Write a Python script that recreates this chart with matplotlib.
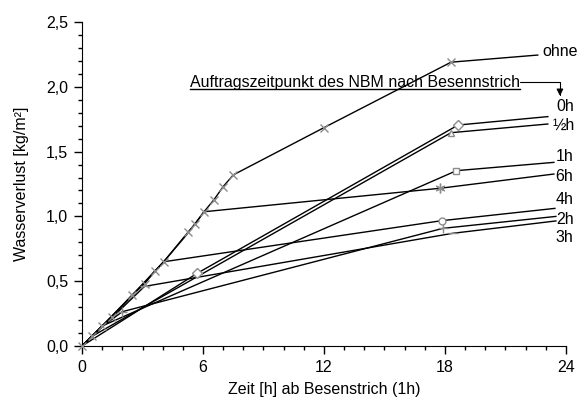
import numpy as np
import matplotlib.pyplot as plt
from matplotlib.ticker import MultipleLocator, FuncFormatter

plt.rcParams['font.family'] = ['Liberation Sans', 'DejaVu Sans']

# reference curve without NBM
t_ohne = [0, 0.5, 1.0, 1.5, 2.5, 3.1, 3.6, 4.05, 5.25, 5.6, 6.05, 6.55, 7.0, 7.5, 12.0, 18.3, 22.6]
w_ohne = [0, 0.075, 0.155, 0.226, 0.395, 0.48, 0.575, 0.65, 0.877, 0.94, 1.036, 1.13, 1.23, 1.32, 1.685, 2.19, 2.245]

# series with NBM applied at different times
t_0h = [0, 5.7, 18.65, 23.1]
w_0h = [0, 0.56, 1.705, 1.77]
t_05h = [0, 0.5, 18.3, 23.1]
w_05h = [0, 0.075, 1.646, 1.713]
t_1h = [0, 1.0, 18.57, 23.4]
w_1h = [0, 0.155, 1.353, 1.417]
t_2h = [0, 1.0, 2.0, 17.9, 23.5]
w_2h = [0, 0.15, 0.265, 0.908, 1.0]
t_3h = [0, 1.5, 3.1, 18.4, 23.5]
w_3h = [0, 0.22, 0.46, 0.87, 0.965]
t_4h = [0, 1.0, 2.5, 4.05, 17.83, 23.45]
w_4h = [0, 0.155, 0.39, 0.65, 0.967, 1.062]
t_6h = [0, 1.0, 2.5, 4.05, 5.25, 6.05, 17.75, 23.4]
w_6h = [0, 0.155, 0.395, 0.65, 0.87, 1.036, 1.217, 1.327]

series = [
    # t, w, marker, indices with markers, label, label pos
    (t_0h, w_0h, 'D', [1, 2], '0h', (23.5, 1.847)),
    (t_05h, w_05h, '^', [2], '½h', (23.35, 1.70)),
    (t_1h, w_1h, 's', [2], '1h', (23.5, 1.46)),
    (t_2h, w_2h, '+', [2, 3], '2h', (23.5, 0.98)),
    (t_3h, w_3h, '_', [2, 3], '3h', (23.5, 0.839)),
    (t_4h, w_4h, 'o', [4], '4h', (23.5, 1.127)),
    (t_6h, w_6h, (6, 2, 0), [6], '6h', (23.45, 1.306)),
]

fs = 11.5
fig = plt.figure(figsize=(5.87, 4.03), dpi=100)
ax = fig.add_axes([0.1397, 0.1414, 0.8245, 0.804])

grey = '#8c8c8c'
for t, w, m, idx, lab, pos in series:
    ax.plot(t, w, color='black', lw=1.0, zorder=2)
    ms = 5 if m in ('D', '^', 's', 'o') else 7
    ax.plot([t[i] for i in idx], [w[i] for i in idx], linestyle='none', marker=m,
            ms=ms, mfc='white', mec=grey, mew=1.0, zorder=3)
    ax.text(pos[0], pos[1], lab, fontsize=fs, ha='left', va='center', clip_on=False)

ax.plot(t_ohne, w_ohne, color='black', lw=1.0, zorder=2)
ax.plot(t_ohne[:-1], w_ohne[:-1], linestyle='none', marker='x', ms=6, mec=grey, mew=1.0,
        zorder=4, clip_on=False)
ax.text(22.85, 2.27, 'ohne', fontsize=fs, ha='left', va='center', clip_on=False)

ax.set_xlim(0, 24)
ax.set_ylim(0, 2.5)
ax.xaxis.set_major_locator(MultipleLocator(6))
ax.xaxis.set_minor_locator(MultipleLocator(1))
ax.yaxis.set_major_locator(MultipleLocator(0.5))
ax.yaxis.set_minor_locator(MultipleLocator(0.1))
ax.yaxis.set_major_formatter(FuncFormatter(lambda v, p: f'{v:.1f}'.replace('.', ',')))
ax.tick_params(which='major', length=6, width=1, labelsize=fs, direction='out')
ax.tick_params(which='minor', length=3, width=1, direction='out')
ax.tick_params(axis='x', pad=4)
ax.tick_params(axis='y', pad=4)
for s in ['top', 'right']:
    ax.spines[s].set_visible(False)

ax.set_xlabel('Zeit [h] ab Besenstrich (1h)', fontsize=fs, labelpad=5)
ax.set_ylabel('Wasserverlust [kg/m²]', fontsize=fs, labelpad=12)

# note with underline and arrow
note = ax.text(5.35, 2.037, 'Auftragszeitpunkt des NBM nach Besennstrich', fontsize=fs,
               ha='left', va='center')
fig.canvas.draw()
bb = note.get_window_extent(fig.canvas.get_renderer())
inv = ax.transData.inverted()
(x0, y0), (x1, y1) = inv.transform([(bb.x0, bb.y0 + 1), (bb.x1, bb.y0 + 1)])
ax.plot([x0, x1], [y0, y1], color='black', lw=1.0, clip_on=False)
ax.annotate('', xy=(23.7, 1.93), xytext=(x1, 2.037),
            arrowprops=dict(arrowstyle='-|>', color='black', lw=0.8,
                            connectionstyle='angle,angleA=0,angleB=90,rad=0',
                            shrinkA=0, shrinkB=0, mutation_scale=10))

fig.savefig('out.png', dpi=100)
